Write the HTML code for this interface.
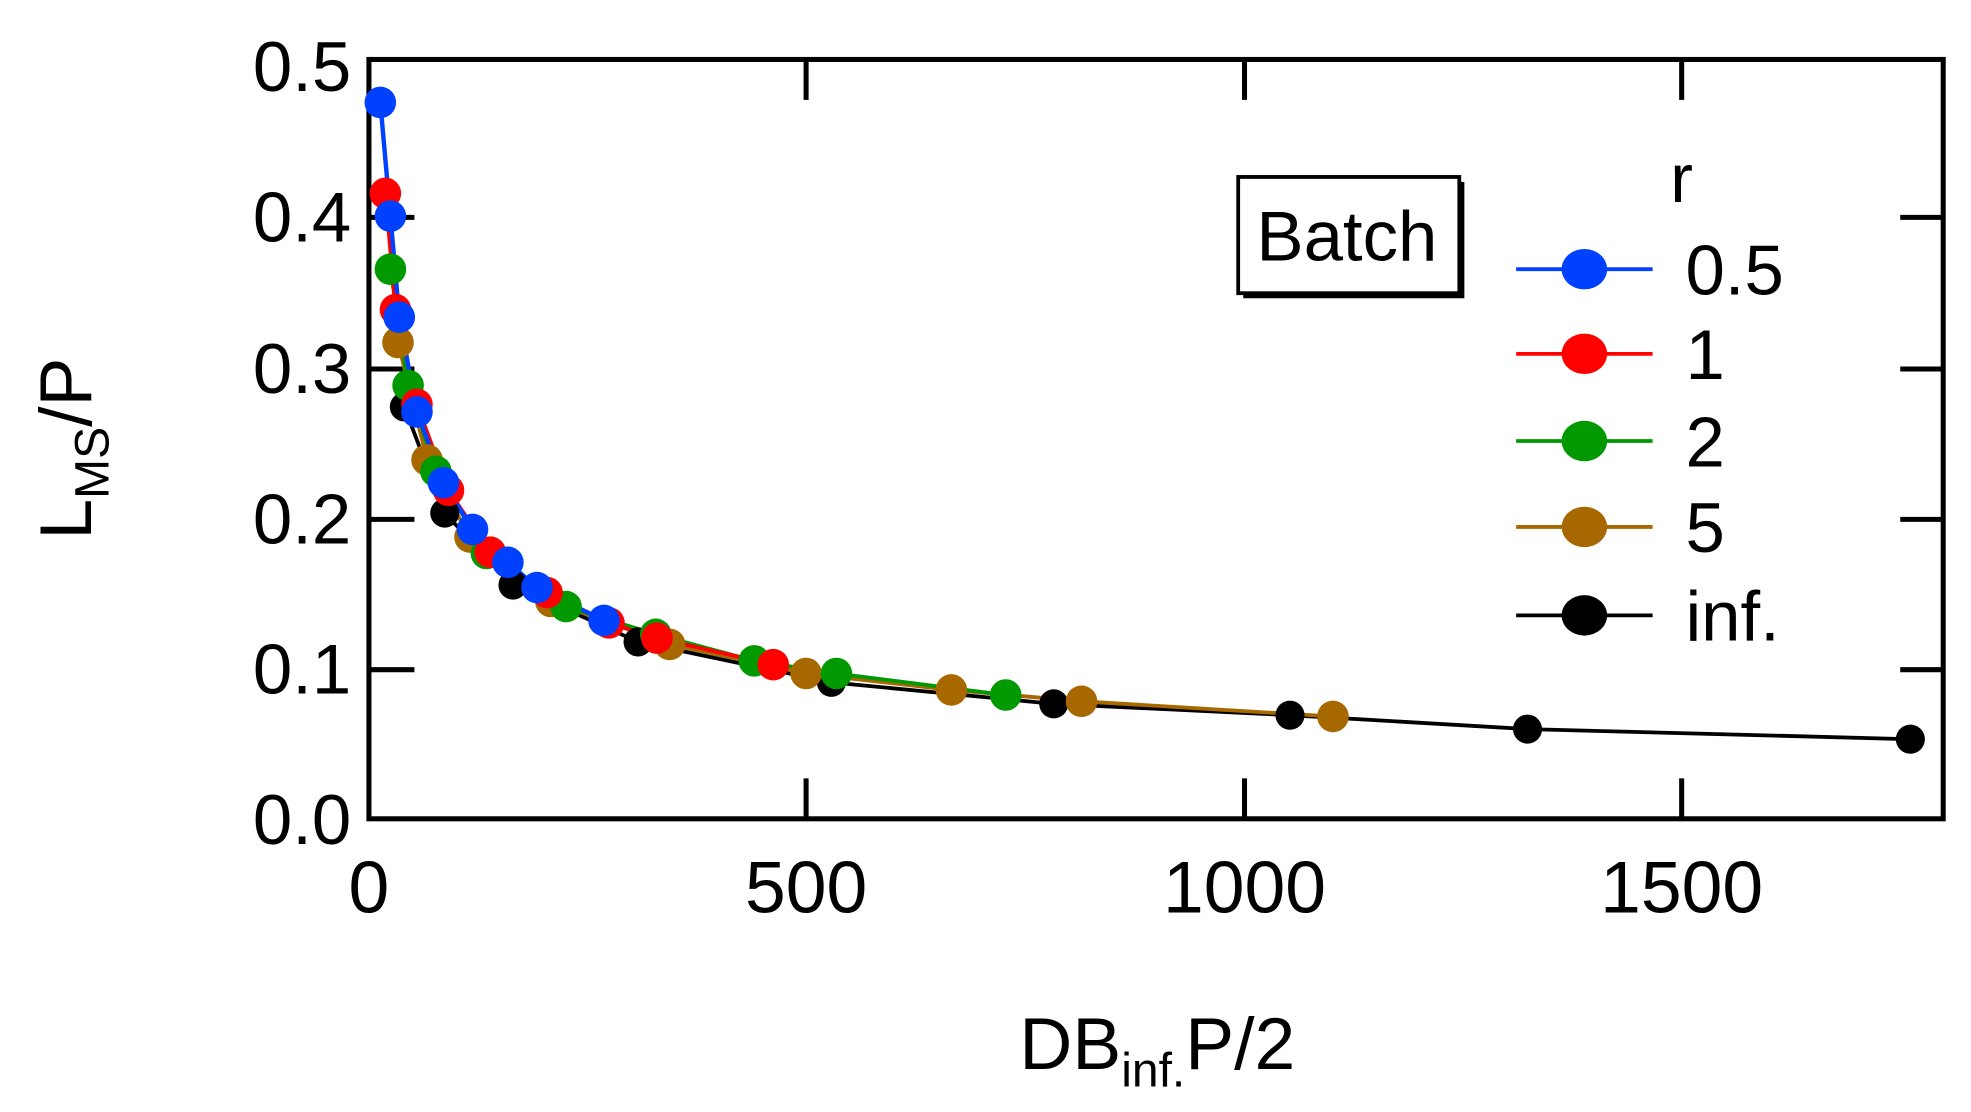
<!DOCTYPE html>
<html><head><meta charset="utf-8"><style>
html,body{margin:0;padding:0;background:#fff}
svg{display:block}
text{font-family:"Liberation Sans",sans-serif;fill:#000}
</style></head><body>
<svg width="1971" height="1112" viewBox="0 0 1560 880" xmlns="http://www.w3.org/2000/svg">
<rect width="1560" height="880" fill="#fff"/>
<rect x="292" y="47" width="1246" height="601" fill="none" stroke="#000" stroke-width="4"/>
<g stroke="#000" stroke-width="4">
<line x1="292" y1="530" x2="328" y2="530"/><line x1="292" y1="411" x2="328" y2="411"/><line x1="292" y1="292" x2="328" y2="292"/><line x1="292" y1="172" x2="328" y2="172"/>
<line x1="1504" y1="530" x2="1538" y2="530"/><line x1="1504" y1="411" x2="1538" y2="411"/><line x1="1504" y1="292" x2="1538" y2="292"/><line x1="1504" y1="172" x2="1538" y2="172"/>
<line x1="638" y1="648" x2="638" y2="616"/><line x1="985" y1="648" x2="985" y2="616"/><line x1="1331" y1="648" x2="1331" y2="616"/>
<line x1="638" y1="47" x2="638" y2="79"/><line x1="985" y1="47" x2="985" y2="79"/><line x1="1331" y1="47" x2="1331" y2="79"/>
</g>
<g font-size="56" text-anchor="end">
<text x="278" y="668">0.0</text><text x="278" y="549">0.1</text><text x="278" y="430">0.2</text><text x="278" y="311">0.3</text><text x="278" y="191">0.4</text><text x="278" y="72">0.5</text>
</g>
<g font-size="58" text-anchor="middle">
<text x="292" y="722">0</text><text x="638" y="722">500</text><text x="985" y="722">1000</text><text x="1331" y="722">1500</text>
</g>
<text x="916" y="846" font-size="58" text-anchor="middle">DB<tspan font-size="38" dy="14">inf.</tspan><tspan dy="-14">P/2</tspan></text>
<text transform="translate(72,355) rotate(-90)" font-size="58" text-anchor="middle">L<tspan font-size="38" dy="14">MS</tspan><tspan dy="-14">/P</tspan></text>

<g fill="none" stroke-width="3">
<polyline stroke="#000" points="320,322 352,406 406,463 505,508 658,540 834,557 1021,566 1209,577 1512,585"/>
<polyline stroke="#a86800" points="315,271 338,364 372,425 436,476 530,510 638,533 753,546 856,555 1055,567"/>
<polyline stroke="#009900" points="309,213 323,305 345,373 385,438 448,480 519,502 597,523 662,533 796,550"/>
<polyline stroke="#ff0000" points="305,153 313,245 330,320 355,388 388,437 433,469 482,493 520,505 612,526"/>
<polyline stroke="#0040ff" stroke-width="3.5" points="301,81 309,171 316,251 330,326 351,382 374,419 402,445 425,465 478,491"/>
</g>
<g fill="#000">
<circle cx="320" cy="322" r="11.5"/><circle cx="352" cy="406" r="11.5"/><circle cx="406" cy="463" r="11.5"/><circle cx="505" cy="508" r="11.5"/><circle cx="658" cy="540" r="11.5"/><circle cx="834" cy="557" r="11.5"/><circle cx="1021" cy="566" r="11.5"/><circle cx="1209" cy="577" r="11.5"/><circle cx="1512" cy="585" r="11.5"/>
</g>
<g fill="#a86800">
<circle cx="315" cy="271" r="12.5"/><circle cx="338" cy="364" r="12.5"/><circle cx="372" cy="425" r="12.5"/><circle cx="436" cy="476" r="12.5"/><circle cx="530" cy="510" r="12.5"/><circle cx="638" cy="533" r="12.5"/><circle cx="753" cy="546" r="12.5"/><circle cx="856" cy="555" r="12.5"/><circle cx="1055" cy="567" r="12.5"/>
</g>
<g fill="#009900">
<circle cx="309" cy="213" r="12.5"/><circle cx="323" cy="305" r="12.5"/><circle cx="345" cy="373" r="12.5"/><circle cx="385" cy="438" r="12.5"/><circle cx="448" cy="480" r="12.5"/><circle cx="519" cy="502" r="12.5"/><circle cx="597" cy="523" r="12.5"/><circle cx="662" cy="533" r="12.5"/><circle cx="796" cy="550" r="12.5"/>
</g>
<g fill="#ff0000">
<circle cx="305" cy="153" r="12.5"/><circle cx="313" cy="245" r="12.5"/><circle cx="330" cy="320" r="12.5"/><circle cx="355" cy="388" r="12.5"/><circle cx="388" cy="437" r="12.5"/><circle cx="433" cy="469" r="12.5"/><circle cx="482" cy="493" r="12.5"/><circle cx="520" cy="505" r="12.5"/><circle cx="612" cy="526" r="12.5"/>
</g>
<g fill="#0040ff">
<circle cx="301" cy="81" r="12.5"/><circle cx="309" cy="171" r="12.5"/><circle cx="316" cy="251" r="12.5"/><circle cx="330" cy="326" r="12.5"/><circle cx="351" cy="382" r="12.5"/><circle cx="374" cy="419" r="12.5"/><circle cx="402" cy="445" r="12.5"/><circle cx="425" cy="465" r="12.5"/><circle cx="478" cy="491" r="12.5"/>
</g>

<rect x="984" y="144" width="175" height="92" fill="#000"/>
<rect x="980" y="140" width="175" height="92" fill="#fff" stroke="#000" stroke-width="3"/>
<text x="1066" y="206" font-size="56" text-anchor="middle">Batch</text>

<text x="1322" y="160" font-size="54">r</text>
<g stroke-width="3">
<line x1="1200" y1="213" x2="1308" y2="213" stroke="#0040ff"/>
<line x1="1200" y1="280" x2="1308" y2="280" stroke="#ff0000"/>
<line x1="1200" y1="349" x2="1308" y2="349" stroke="#009900"/>
<line x1="1200" y1="417" x2="1308" y2="417" stroke="#a86800"/>
<line x1="1200" y1="487" x2="1308" y2="487" stroke="#000"/>
</g>
<ellipse cx="1254" cy="213" rx="18" ry="16" fill="#0040ff"/>
<ellipse cx="1254" cy="280" rx="18" ry="16" fill="#ff0000"/>
<ellipse cx="1254" cy="349" rx="18" ry="16" fill="#009900"/>
<ellipse cx="1254" cy="417" rx="18" ry="16" fill="#a86800"/>
<ellipse cx="1254" cy="487" rx="18" ry="16" fill="#000"/>
<g font-size="56">
<text x="1334" y="233">0.5</text>
<text x="1334" y="300">1</text>
<text x="1334" y="369">2</text>
<text x="1334" y="437">5</text>
<text x="1334" y="507">inf.</text>
</g>
</svg>
</body></html>
